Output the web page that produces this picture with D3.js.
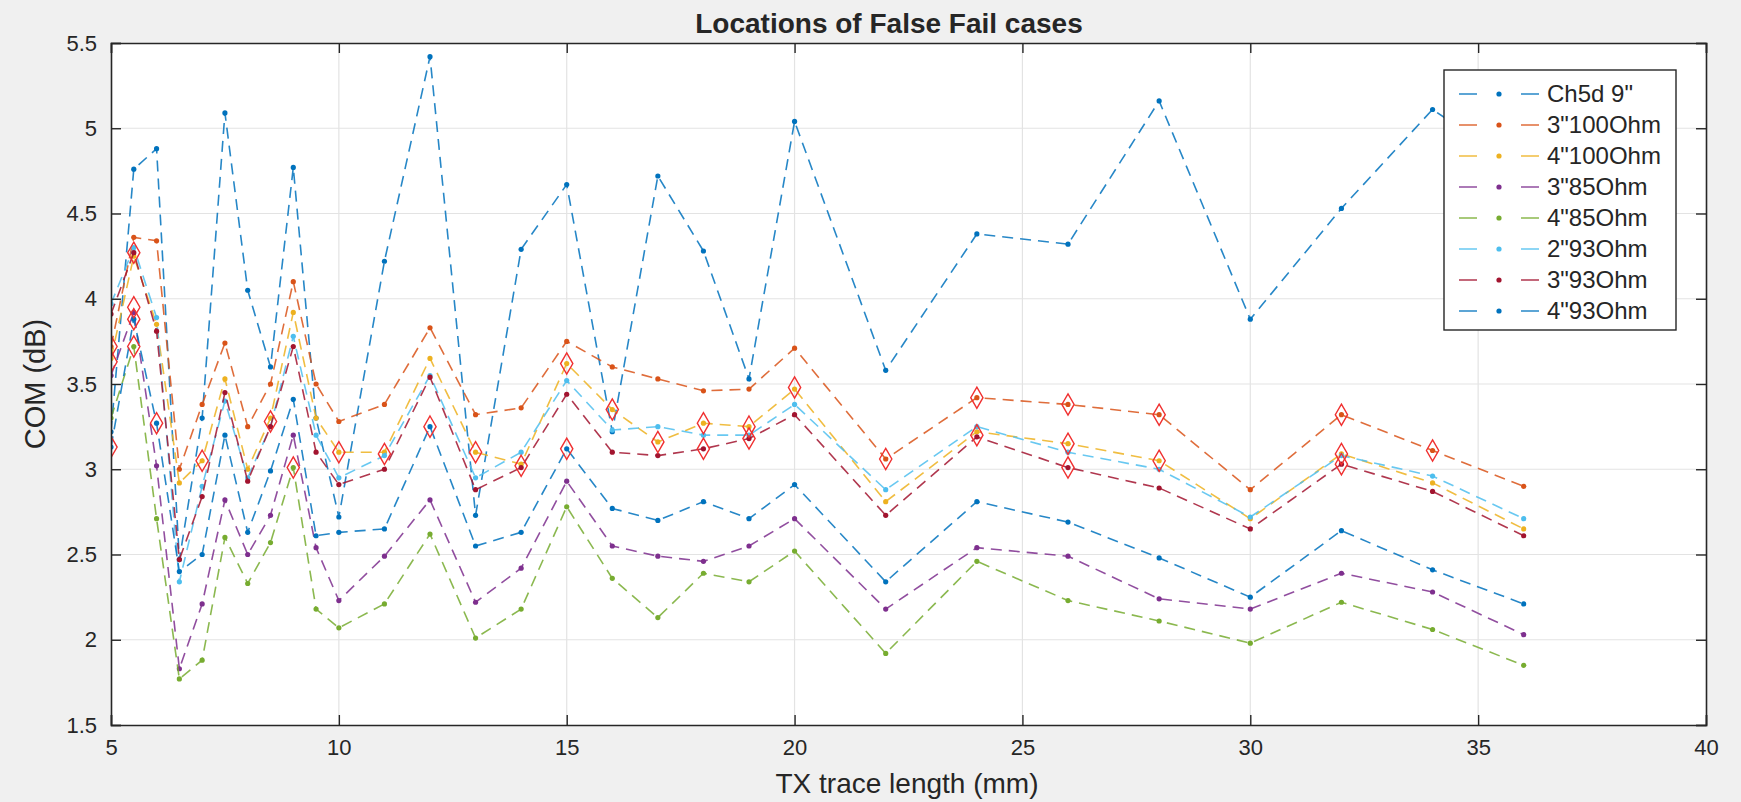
<!DOCTYPE html>
<html>
<head>
<meta charset="utf-8">
<script src="https://cdn.jsdelivr.net/npm/d3@7"></script>
<style>
  html, body { margin: 0; padding: 0; background: #f0f0f0; }
  svg { display: block; }
  text { font-family: "Liberation Sans", Arial, sans-serif; fill: #262626; }
</style>
</head>
<body>
<svg id="chart" width="1741" height="802"></svg>
<script>
// ---------- data ----------
const xValues = [5, 5.5, 6, 6.5, 7, 7.5, 8, 8.5, 9, 9.5, 10, 11, 12, 13, 14, 15, 16, 17, 18, 19, 20, 22, 24, 26, 28, 30, 32, 34, 36];

const seriesNames = ['Ch5d 9"', '3"100Ohm', '4"100Ohm', '3"85Ohm', '4"85Ohm', '2"93Ohm', '3"93Ohm', '4"93Ohm'];
const seriesColors = ['#0072BD', '#D95319', '#EDB120', '#7E2F8E', '#77AC30', '#4DBEEE', '#A2142F', '#0072BD'];

const ch5d9   = [3.22, 4.76, 4.88, 2.47, 3.30, 5.09, 4.05, 3.60, 4.77, 3.30, 2.72, 4.22, 5.42, 2.73, 4.29, 4.67, 3.22, 4.72, 4.28, 3.53, 5.04, 3.58, 4.38, 4.32, 5.16, 3.88, 4.53, 5.11, 4.75];
const in3_100 = [3.72, 4.36, 4.34, 3.00, 3.38, 3.74, 3.25, 3.50, 4.10, 3.50, 3.28, 3.38, 3.83, 3.32, 3.36, 3.75, 3.60, 3.53, 3.46, 3.47, 3.71, 3.06, 3.42, 3.38, 3.32, 2.88, 3.32, 3.11, 2.90];
const in4_100 = [3.65, 4.25, 3.85, 2.92, 3.05, 3.53, 3.00, 3.30, 3.92, 3.30, 3.10, 3.10, 3.65, 3.10, 3.03, 3.62, 3.35, 3.16, 3.27, 3.25, 3.47, 2.81, 3.22, 3.15, 3.05, 2.71, 3.09, 2.92, 2.65];
const in3_85  = [3.55, 3.92, 3.02, 1.83, 2.21, 2.82, 2.50, 2.73, 3.20, 2.54, 2.23, 2.49, 2.82, 2.22, 2.42, 2.93, 2.55, 2.49, 2.46, 2.55, 2.71, 2.18, 2.54, 2.49, 2.24, 2.18, 2.39, 2.28, 2.03];
const in4_85  = [3.30, 3.72, 2.71, 1.77, 1.88, 2.60, 2.33, 2.57, 3.01, 2.18, 2.07, 2.21, 2.62, 2.01, 2.18, 2.78, 2.36, 2.13, 2.39, 2.34, 2.52, 1.92, 2.46, 2.23, 2.11, 1.98, 2.22, 2.06, 1.85];
const in2_93  = [3.97, 4.30, 3.89, 2.34, 2.90, 3.40, 2.95, 3.25, 3.78, 3.20, 2.95, 3.08, 3.55, 2.95, 3.10, 3.52, 3.23, 3.25, 3.20, 3.20, 3.38, 2.88, 3.25, 3.10, 3.00, 2.72, 3.08, 2.96, 2.71];
const in3_93  = [3.91, 4.27, 3.81, 2.47, 2.84, 3.45, 2.93, 3.25, 3.72, 3.10, 2.91, 3.00, 3.54, 2.88, 3.01, 3.44, 3.10, 3.08, 3.12, 3.18, 3.32, 2.73, 3.19, 3.01, 2.89, 2.65, 3.03, 2.87, 2.61];
const in4_93  = [3.13, 3.88, 3.27, 2.40, 2.50, 3.20, 2.63, 2.99, 3.41, 2.61, 2.63, 2.65, 3.25, 2.55, 2.63, 3.12, 2.77, 2.70, 2.81, 2.71, 2.91, 2.34, 2.81, 2.69, 2.48, 2.25, 2.64, 2.41, 2.21];

const seriesValues = [ch5d9, in3_100, in4_100, in3_85, in4_85, in2_93, in3_93, in4_93];

// false fail locations (red diamonds)
const failX = [5, 5, 5, 5.5, 5.5, 5.5, 5.5, 6, 7, 8.5, 9, 10, 11, 12, 13, 14, 15, 15, 16, 17, 18, 18, 19, 19, 20, 22, 24, 24, 26, 26, 26, 28, 28, 32, 32, 32, 34];
const failY = [3.72, 3.63, 3.13, 4.27, 3.95, 3.88, 3.72, 3.27, 3.05, 3.28, 3.01, 3.10, 3.09, 3.25, 3.10, 3.02, 3.62, 3.12, 3.35, 3.16, 3.27, 3.12, 3.25, 3.18, 3.48, 3.06, 3.42, 3.20, 3.38, 3.15, 3.01, 3.32, 3.05, 3.32, 3.09, 3.03, 3.11];

const xTicks = [5, 10, 15, 20, 25, 30, 35, 40];
const yTicks = [1.5, 2, 2.5, 3, 3.5, 4, 4.5, 5, 5.5];

const titleText = 'Locations of False Fail cases';
const xLabel = 'TX trace length (mm)';
const yLabel = 'COM (dB)';

// ---------- layout ----------
const svg = d3.select('#chart');
const L = 111, R = 1706, T = 43, B = 725;
const x = d3.scaleLinear().domain([5, 40]).range([L, R]);
const y = d3.scaleLinear().domain([1.5, 5.5]).range([B, T]);

svg.append('rect').attr('width', 1741).attr('height', 802).attr('fill', '#f0f0f0');
svg.append('rect').attr('x', L).attr('y', T).attr('width', R - L).attr('height', B - T).attr('fill', '#ffffff');

// grid
const grid = svg.append('g');
grid.selectAll('.gx').data(xTicks.slice(1, -1)).join('line')
  .attr('x1', d => x(d)).attr('x2', d => x(d)).attr('y1', T).attr('y2', B)
  .attr('stroke', '#e3e3e3').attr('stroke-width', 1.2);
grid.selectAll('.gy').data(yTicks.slice(1, -1)).join('line')
  .attr('y1', d => y(d)).attr('y2', d => y(d)).attr('x1', L).attr('x2', R)
  .attr('stroke', '#e3e3e3').attr('stroke-width', 1.2);

// clip
svg.append('clipPath').attr('id', 'clip').append('rect')
  .attr('x', L).attr('y', T).attr('width', R - L).attr('height', B - T);
const plot = svg.append('g').attr('clip-path', 'url(#clip)');

const line = d3.line().x(d => x(d[0])).y(d => y(d[1]));

seriesValues.forEach((vals, i) => {
  const pts = xValues.map((xv, k) => [xv, vals[k]]);
  const g = plot.append('g');
  g.append('path').datum(pts).attr('d', line)
    .attr('fill', 'none').attr('stroke', seriesColors[i])
    .attr('stroke-width', 1.6).attr('stroke-dasharray', '11,7')
    .attr('stroke-opacity', 0.85);
  g.selectAll('circle').data(pts).join('circle')
    .attr('cx', d => x(d[0])).attr('cy', d => y(d[1])).attr('r', 2.6)
    .attr('fill', seriesColors[i]);
});

// red diamonds
const diamond = d3.symbol().type(d3.symbolDiamond).size(130);
plot.selectAll('.fail').data(failX.map((v, i) => [v, failY[i]])).join('path')
  .attr('transform', d => `translate(${x(d[0])},${y(d[1])})`)
  .attr('d', diamond)
  .attr('fill', 'none').attr('stroke', '#f03030').attr('stroke-width', 1.4);

// axes
const axisColor = '#262626';
const xAxisB = d3.axisBottom(x).tickValues(xTicks).tickSize(-10).tickPadding(14).tickFormat(d3.format('d'));
const xAxisT = d3.axisTop(x).tickValues(xTicks).tickSize(-10).tickFormat('');
const yAxisL = d3.axisLeft(y).tickValues(yTicks).tickSize(-10).tickPadding(14).tickFormat(d => String(d));
const yAxisR = d3.axisRight(y).tickValues(yTicks).tickSize(-10).tickFormat('');

function styleAxis(g) {
  g.select('.domain').attr('stroke', axisColor).attr('stroke-width', 1.6);
  g.selectAll('.tick line').attr('stroke', axisColor).attr('stroke-width', 1.4);
  g.selectAll('.tick text').attr('font-size', 22).attr('fill', axisColor)
    .style('font-family', '"Liberation Sans", Arial, sans-serif');
}
svg.append('g').attr('transform', `translate(0,${B})`).call(xAxisB).call(styleAxis);
svg.append('g').attr('transform', `translate(0,${T})`).call(xAxisT).call(styleAxis);
svg.append('g').attr('transform', `translate(${L},0)`).call(yAxisL).call(styleAxis);
svg.append('g').attr('transform', `translate(${R},0)`).call(yAxisR).call(styleAxis);

// labels
svg.append('text').attr('x', 889).attr('y', 33).attr('text-anchor', 'middle')
  .attr('font-size', 28).attr('font-weight', 'bold').attr('fill', '#000').text(titleText);
svg.append('text').attr('x', 907).attr('y', 793).attr('text-anchor', 'middle')
  .attr('font-size', 28).text(xLabel);
svg.append('text').attr('transform', `translate(45,${(T + B) / 2}) rotate(-90)`)
  .attr('text-anchor', 'middle').attr('font-size', 29).text(yLabel);

// legend
const lg = svg.append('g');
const lgX = 1444, lgY = 70, lgW = 232, lgH = 260;
lg.append('rect').attr('x', lgX).attr('y', lgY).attr('width', lgW).attr('height', lgH)
  .attr('fill', '#ffffff').attr('stroke', '#262626').attr('stroke-width', 1.4);
seriesNames.forEach((name, i) => {
  const cy = lgY + 24 + i * 31;
  lg.append('line').attr('x1', lgX + 15).attr('x2', lgX + 95).attr('y1', cy).attr('y2', cy)
    .attr('stroke', seriesColors[i]).attr('stroke-width', 1.6).attr('stroke-dasharray', '18,44')
    .attr('stroke-opacity', 0.85);
  lg.append('circle').attr('cx', lgX + 55).attr('cy', cy).attr('r', 2.6).attr('fill', seriesColors[i]);
  lg.append('text').attr('x', lgX + 103).attr('y', cy + 8).attr('font-size', 24).text(name);
});
</script>
</body>
</html>
